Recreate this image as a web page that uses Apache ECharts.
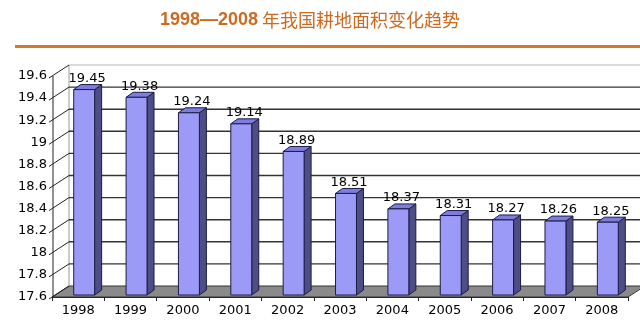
<!DOCTYPE html>
<html>
<head>
<meta charset="utf-8">
<script src="https://cdn.jsdelivr.net/npm/echarts@6/dist/echarts.min.js"></script>
<style>html,body{margin:0;padding:0;background:#fff;}#c{width:640px;height:330px;}</style>
</head>
<body>
<div id="c"></div>
<script>
const titleYears = '1998—2008';
const titleText = ' 年我国耕地面积变化趋势';
const categories = ['1998','1999','2000','2001','2002','2003','2004','2005','2006','2007','2008'];
const values = [19.45, 19.38, 19.24, 19.14, 18.89, 18.51, 18.37, 18.31, 18.27, 18.26, 18.25];
const valueLabels = ['19.45','19.38','19.24','19.14','18.89','18.51','18.37','18.31','18.27','18.26','18.25'];
const yMin = 17.6, yMax = 19.6, yStep = 0.2;
const yTicks = [17.6, 17.8, 18, 18.2, 18.4, 18.6, 18.8, 19, 19.2, 19.4, 19.6];

const DX = 17, DY = -11;          // wall depth
const BDX = 7, BDY = -5;          // bar depth
const FRONT = '#9b9bf7', TOP = '#7d7dde', SIDE = '#4e4e86', EDGE = '#1c1c44';

const chart = echarts.init(document.getElementById('c'), null, {renderer: 'canvas'});
chart.setOption({
  backgroundColor: '#fff',
  animation: false,
  title: {
    text: '{a|' + titleYears + '}{b|' + titleText + '}',
    left: 155, top: 6,
    textStyle: {
      fontWeight: 'normal',
      rich: {
        a: {fontFamily: 'Liberation Sans, Arial', fontWeight: 'bold', fontSize: 18, color: '#cd6a22'},
        b: {fontFamily: 'Noto Sans CJK SC', fontWeight: 'normal', fontSize: 18, color: '#cd6a22'}
      }
    }
  },
  graphic: [{type: 'rect', shape: {x: 15, y: 45, width: 625, height: 3}, style: {fill: '#d9762a'}}],
  grid: {left: 52, right: 12, top: 76, bottom: 33},
  xAxis: {
    type: 'category', data: categories,
    axisLine: {lineStyle: {color: '#222', width: 1}},
    axisTick: {show: true, length: 4, lineStyle: {color: '#222'}},
    axisLabel: {fontFamily: 'DejaVu Sans', fontSize: 13, color: '#000', margin: 7}
  },
  yAxis: {
    type: 'value', min: yMin, max: yMax, interval: yStep,
    axisLine: {show: false}, axisTick: {show: false}, splitLine: {show: false},
    axisLabel: {fontFamily: 'DejaVu Sans', fontSize: 13, color: '#000', margin: 5,
      formatter: v => String(+v.toFixed(1))}
  },
  series: [
    {
      type: 'custom', clip: false, z: 1,
      data: yTicks.map(v => [0, v]),
      renderItem: function (params, api) {
        const cs = params.coordSys;
        const v = api.value(1);
        const y = api.coord([0, v])[1];
        const gx = cs.x, gw = cs.width;
        const children = [];
        if (Math.abs(v - yMin) < 1e-6) {
          children.push({type: 'polygon', shape: {points: [[gx, y], [gx + gw, y], [gx + gw + DX, y + DY], [gx + DX, y + DY]]},
            style: {fill: '#8a8a8a', stroke: '#333', lineWidth: 1}});
          const yTop = api.coord([0, yMax])[1];
          children.push({type: 'line', shape: {x1: gx + DX, y1: y + DY, x2: gx + DX, y2: yTop + DY}, style: {stroke: '#999', lineWidth: 1}});
          children.push({type: 'line', shape: {x1: gx + 1, y1: y, x2: gx + 1, y2: yTop}, style: {stroke: '#222', lineWidth: 1}});
        } else {
          const top = Math.abs(v - yMax) < 1e-6;
          children.push({type: 'line', shape: {x1: gx + DX, y1: y + DY, x2: 640, y2: y + DY},
            style: {stroke: top ? '#b5b5b5' : '#333', lineWidth: top ? 1 : 1.4}});
        }
        children.push({type: 'line', shape: {x1: gx - 3, y1: y + 2, x2: gx + DX, y2: y + DY},
          style: {stroke: '#222', lineWidth: 1}});
        return {type: 'group', children: children};
      }
    },
    {
      type: 'custom', clip: false, z: 3,
      data: values.map((v, i) => [i, v]),
      renderItem: function (params, api) {
        const i = api.value(0), v = api.value(1);
        const top = api.coord([i, v]);
        const bot = api.coord([i, yMin]);
        const bw = api.size([1, 0])[0] * 0.4;
        const cx = top[0] + 6;
        const x0 = cx - bw / 2, x1 = cx + bw / 2;
        const yt = top[1] - 3, yb = bot[1] - 2;
        return {type: 'group', children: [
          {type: 'polygon', shape: {points: [[x1, yt], [x1 + BDX, yt + BDY], [x1 + BDX, yb + BDY], [x1, yb]]},
            style: {fill: SIDE, stroke: EDGE, lineWidth: 1}},
          {type: 'polygon', shape: {points: [[x0, yt], [x0 + BDX, yt + BDY], [x1 + BDX, yt + BDY], [x1, yt]]},
            style: {fill: TOP, stroke: EDGE, lineWidth: 1}},
          {type: 'rect', shape: {x: x0, y: yt, width: bw, height: yb - yt},
            style: {fill: FRONT, stroke: EDGE, lineWidth: 1}},
          {type: 'text', style: {text: valueLabels[params.dataIndex], x: cx + 3, y: yt - 11,
            align: 'center', verticalAlign: 'middle', font: '13px "DejaVu Sans"', fill: '#000'}}
        ]};
      }
    }
  ]
});
</script>
</body>
</html>
